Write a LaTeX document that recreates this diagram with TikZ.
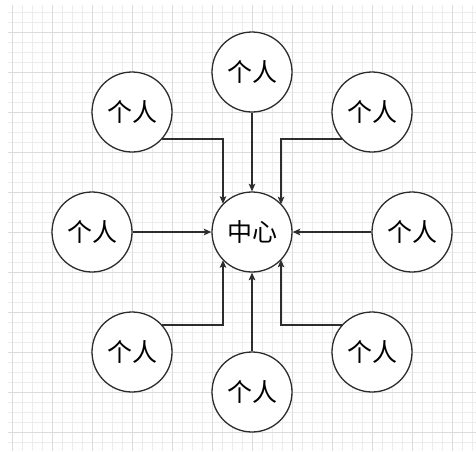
\documentclass[tikz,border=0pt]{standalone}
\usepackage{fontspec}
\newfontfamily\cjk{Noto Sans CJK SC}
\usetikzlibrary{arrows.meta}
\definecolor{minorgrid}{RGB}{236,236,236}
\definecolor{majorgrid}{RGB}{220,220,220}
\definecolor{strokec}{RGB}{45,45,45}
\tikzset{
  person/.style={circle, draw=strokec, fill=white, line width=1.3pt,
    minimum size=80pt, inner sep=0pt, font=\cjk\fontsize{25}{29}\selectfont},
  arr/.style={draw=strokec, line width=1.4pt,
    -{Stealth[length=7.5pt,width=6.5pt,inset=1.5pt]}},
  minorline/.style={draw=minorgrid, line width=0.7pt},
  majorline/.style={draw=majorgrid, line width=1pt}
}
\begin{document}
\begin{tikzpicture}[x=1pt,y=-1pt]
\useasboundingbox (0,0) rectangle (476,451);
\fill[white] (0,0) rectangle (476,451);
% grid
\foreach \gx in {12,22,...,472} \draw[minorline] (\gx,5) -- (\gx,451);
\foreach \gy in {12,22,...,442} \draw[minorline] (8,\gy) -- (476,\gy);
\foreach \gx in {12,52,...,452} \draw[majorline] (\gx,5) -- (\gx,451);
\foreach \gy in {32,72,...,432} \draw[majorline] (8,\gy) -- (476,\gy);
% nodes
\node[person] (c)  at (252,232) {中心};
\node[person] (t)  at (252,72)  {个人};
\node[person] (tl) at (132,112) {个人};
\node[person] (tr) at (372,112) {个人};
\node[person] (l)  at (92,232)  {个人};
\node[person] (r)  at (412,232) {个人};
\node[person] (bl) at (132,352) {个人};
\node[person] (b)  at (252,392) {个人};
\node[person] (br) at (372,352) {个人};
% connectors
\draw[arr] (t) -- (c);
\draw[arr] (b) -- (c);
\draw[arr] (l) -- (c);
\draw[arr] (r) -- (c);
\draw[arr] (tl.-43 |- 0,139) -| (c.136 -| 223,0);
\draw[arr] (tr.-137 |- 0,139) -| (c.43 -| 281,0);
\draw[arr] (bl.43 |- 0,325) -| (c.-136 -| 223,0);
\draw[arr] (br.137 |- 0,325) -| (c.-43 -| 281,0);
\end{tikzpicture}
\end{document}
